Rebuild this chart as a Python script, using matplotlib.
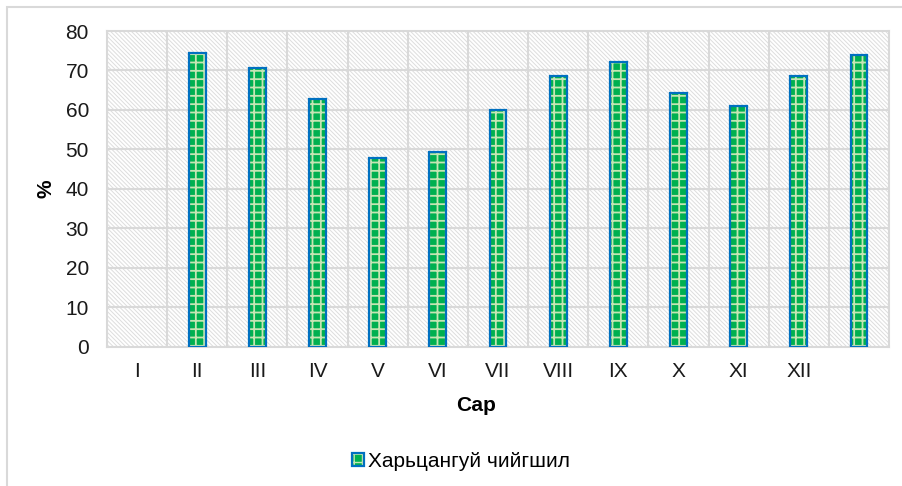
import numpy as np
import matplotlib as mpl
mpl.use('Agg')
import matplotlib.pyplot as plt
from matplotlib.patches import Rectangle

plt.rcParams['font.family'] = ['Liberation Sans', 'DejaVu Sans']

months = ['I', 'II', 'III', 'IV', 'V', 'VI', 'VII', 'VIII', 'IX', 'X', 'XI', 'XII', '']
humidity = [np.nan, 74.5, 70.5, 62.8, 47.9, 49.4, 59.9, 68.6, 72.1, 64.4, 61.0, 68.6, 74.0]
series_name = 'Харьцангуй чийгшил'

fig = plt.figure(figsize=(9.02, 4.86), dpi=100)
# outer chart frame
fig.patches.append(Rectangle((7 / 902, -0.1), 1.2, 1.1 - 7 / 486, transform=fig.transFigure,
                             fill=False, edgecolor='#d9d9d9', linewidth=1.5))

ax = fig.add_axes([107 / 902, 1 - 346.5 / 486, 782 / 902, 315.5 / 486])
x = np.arange(len(months))

# hatched plot background
with plt.rc_context({'hatch.linewidth': 0.7}):
    ax.add_patch(Rectangle((0, 0), 1, 1, transform=ax.transAxes, facecolor='white',
                           edgecolor='#dddddd', hatch='\\' * 8, linewidth=0, zorder=0))

for v in np.arange(0.5, len(months) - 0.5, 1):
    ax.axvline(v, color='#d9d9d9', linewidth=1.5, zorder=1)
for h in np.arange(10, 80, 10):
    ax.axhline(h, color='#d9d9d9', linewidth=1.5, zorder=1)

with plt.rc_context({'hatch.linewidth': 1.3}):
    fill = ax.bar(x, humidity, width=0.28, color='#00b050', edgecolor='#c6e5b3',
                  hatch='++', linewidth=0, zorder=2)
edge = ax.bar(x, humidity, width=0.28, fill=False, edgecolor='#0070c0',
              linewidth=1.6, zorder=3)

ax.set_xlim(-0.5, len(months) - 0.5)
ax.set_ylim(0, 80)
ax.set_yticks(np.arange(0, 81, 10))
ax.set_xticks(x)
ax.set_xticklabels(months)
ax.tick_params(length=0, labelsize=15, colors='#1a1a1a')
ax.tick_params(axis='y', pad=13)
ax.tick_params(axis='x', pad=11)
for s in ax.spines.values():
    s.set_color('#d9d9d9')
    s.set_linewidth(1.5)

ax.set_xlabel('Сар', fontsize=15, fontweight='bold')
ax.xaxis.set_label_coords(0.472, -0.157)
ax.set_ylabel('%', fontsize=15, fontweight='bold')
ax.yaxis.set_label_coords(-0.066, 0.5)

fig.legend([(fill, edge)], [series_name], loc='center', bbox_to_anchor=(0.511, 0.051),
           frameon=False, fontsize=15, handlelength=0.6, handleheight=0.6,
           handletextpad=0.2, handler_map={tuple: mpl.legend_handler.HandlerTuple(ndivide=1)})

fig.savefig('out.png', dpi=100)
